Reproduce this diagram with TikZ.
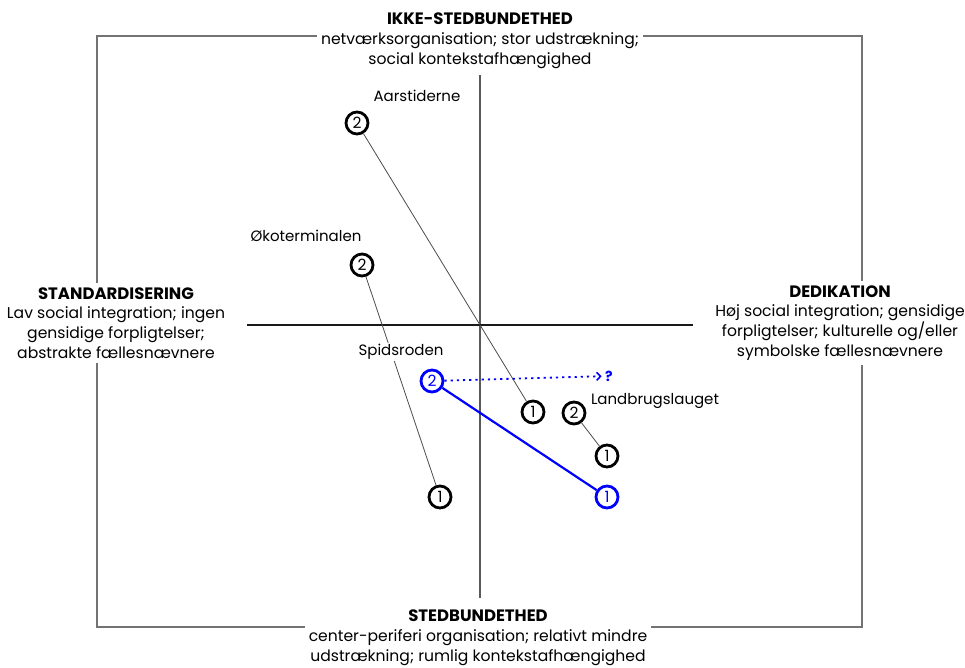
\documentclass[tikz,border=0pt]{standalone}
\usepackage{fontspec}
\setmainfont{Poppins}
\usetikzlibrary{arrows.meta}
\newcommand{\polehead}[1]{{\fontsize{16.5}{19.8}\selectfont\bfseries #1}}

\begin{document}
\begin{tikzpicture}[x=1pt,y=-1pt,
  num/.style={circle,draw=black,fill=white,line width=2.8pt,inner sep=0pt,minimum size=22pt,font=\fontsize{15.5}{15.5}\selectfont},
  bluenum/.style={num,draw=blue,text=blue},
  lab/.style={fill=white,inner sep=1.5pt,font=\fontsize{15}{16}\selectfont},
  pole/.style={fill=white,align=center,inner sep=4pt,font=\fontsize{15.6}{19.8}\selectfont},
  link/.style={draw=black!70,line width=0.8pt}]
  \useasboundingbox (0,0) rectangle (965,668);
  % frame and axes
  \draw[black!55,line width=1.6pt] (97,36) rectangle (862,627);
  \draw[black!65,line width=1.4pt] (480,75) -- (480,598);
  \draw[black!90,line width=1.1pt] (247,325) -- (693,325);
  % the four poles
  \node[pole] (top) at (480,41) {\polehead{IKKE-STEDBUNDETHED}\\netværksorganisation; stor udstrækning;\\social kontekstafhængighed};
  \node[pole] (left) at (116,323) {\polehead{STANDARDISERING}\\Lav social integration; ingen\\gensidige forpligtelser;\\abstrakte fællesnævnere};
  \node[pole] (right) at (840,323) {\polehead{DEDIKATION}\\Høj social integration; gensidige\\forpligtelser; kulturelle og/eller\\symbolske fællesnævnere};
  \node[pole] (bottom) at (478,638) {\polehead{STEDBUNDETHED}\\center-periferi organisation; relativt mindre\\udstrækning; rumlig kontekstafhængighed};
  % cases
  \node[num] (aar2) at (357,123) {2};
  \node[num] (aar1) at (533,412) {1};
  \node[num] (oko2) at (362,265) {2};
  \node[num] (oko1) at (440,497) {1};
  \node[bluenum] (spi2) at (432,381) {2};
  \node[bluenum] (spi1) at (607,497) {1};
  \node[num] (lan2) at (574,413) {2};
  \node[num] (lan1) at (607,456) {1};
  \node[text=blue,font=\fontsize{14}{14}\selectfont\bfseries] (qm) at (609,376) {?};
  \draw[link] (aar2) -- (aar1);
  \draw[link] (oko2) -- (oko1);
  \draw[link] (lan2) -- (lan1);
  \draw[blue,line width=2.2pt] (spi2) -- (spi1);
  \draw[blue,line width=1.8pt,dash pattern=on 2.2pt off 4pt,-{Straight Barb[length=4pt,width=8pt,line width=1.6pt]}] (spi2) -- (qm);
  % names
  \node[lab] (aarlab) at (417,96) {Aarstiderne};
  \node[lab] (okolab) at (306,236) {Økoterminalen};
  \node[lab] (spilab) at (401,352) {Spidsroden};
  \node[lab] (lanlab) at (655,401) {Landbrugslauget};
\end{tikzpicture}
\end{document}
